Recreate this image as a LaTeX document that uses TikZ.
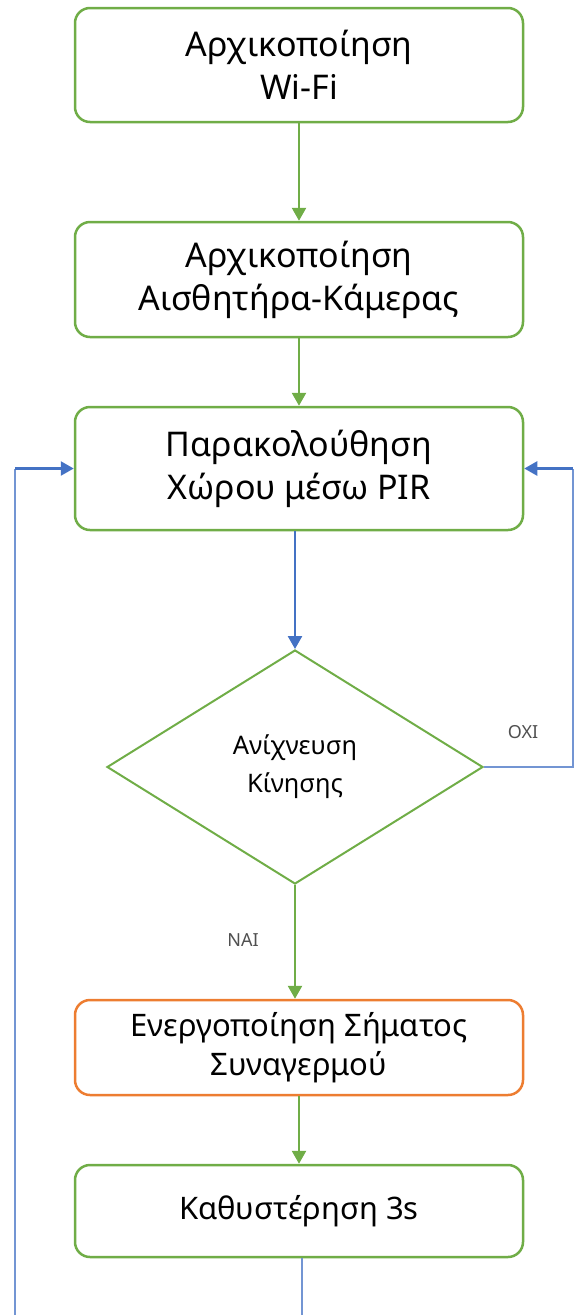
\documentclass[tikz,border=0pt]{standalone}
\usepackage{fontspec}
\setmainfont{Noto Sans}
\usetikzlibrary{arrows.meta,shapes.geometric}
\definecolor{boxgreen}{HTML}{70AD47}
\definecolor{boxorange}{HTML}{ED7D31}
\definecolor{flowblue}{HTML}{4472C4}
\definecolor{labelgray}{HTML}{505050}
\begin{document}
\begin{tikzpicture}[x=1pt,y=-1pt,
  stepbox/.style={draw=boxgreen,line width=2.5pt,rounded corners=15pt,fill=white,
    minimum width=448pt,align=center,inner sep=0pt,font=\fontsize{34}{43}\selectfont},
  smallbox/.style={stepbox,font=\fontsize{31}{39}\selectfont},
  decision/.style={diamond,draw=boxgreen,line width=2pt,aspect=1.6,inner sep=0pt,
    minimum width=376pt,minimum height=234pt,align=center,font=\fontsize{25.5}{38}\selectfont},
  greenflow/.style={draw=boxgreen,line width=2.5pt,-{Triangle[length=13pt,width=14pt]}},
  blueflow/.style={draw=flowblue,line width=2.5pt,-{Triangle[length=13pt,width=14pt]}},
  blueline/.style={draw=flowblue!75,line width=2.5pt},
  tag/.style={text=labelgray,font=\fontsize{18}{20}\selectfont}]
\useasboundingbox (0,0) rectangle (574,1315);

\node[stepbox,minimum height=114pt] (wifi) at (299,65) {Αρχικοποίηση\\Wi-Fi};
\node[stepbox,minimum height=115pt] (sensor) at (299,279.5) {Αρχικοποίηση\\Αισθητήρα-Κάμερας};
\node[stepbox,minimum height=123pt] (pir) at (299,468.5) {Παρακολούθηση\\Χώρου μέσω PIR};
\node[decision] (motion) at (295,767) {Ανίχνευση\\Κίνησης};
\node[smallbox,draw=boxorange,minimum height=95pt] (alarm) at (299,1047.5) {Ενεργοποίηση Σήματος\\Συναγερμού};
\node[smallbox,minimum height=92pt] (delay) at (299,1211) {Καθυστέρηση 3s};

\coordinate (loopstart) at (15,1315);
\coordinate (loopcorner) at (15,468.5);
\coordinate (delayend) at (302,1315);
\coordinate (nocorner1) at (573,767);
\coordinate (nocorner2) at (573,468.5);

\draw[greenflow] (wifi.south) -- (sensor.north);
\draw[greenflow] (sensor.south) -- (pir.north);
\draw[blueflow] (pir.south -| motion.north) -- (motion.north);
\draw[greenflow] (motion.south) -- (alarm.north -| motion.south);
\draw[greenflow] (alarm.south) -- (delay.north);
\draw[blueline] (delay.south -| delayend) -- (delayend);

\draw[blueline] (loopstart) -- (loopcorner);
\draw[blueflow] (loopcorner) -- (pir.west);
\draw[blueline] (motion.east) -- (nocorner1) -- (nocorner2);
\draw[blueflow] (nocorner2) -- (pir.east);

\node[tag] (nolabel) at (523,732) {ΟΧΙ};
\node[tag] (yeslabel) at (243,940) {ΝΑΙ};
\end{tikzpicture}
\end{document}
